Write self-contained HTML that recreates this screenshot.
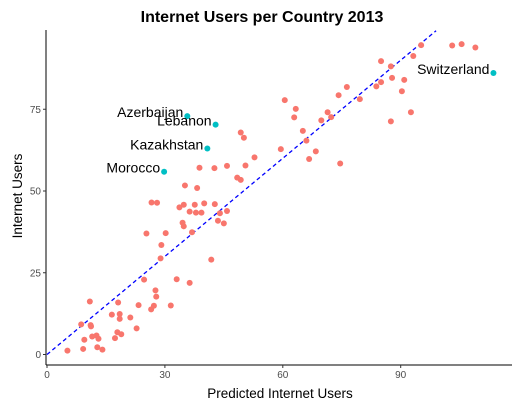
<!DOCTYPE html>
<html><head><meta charset="utf-8"><style>
body{margin:0;background:#fff;font-family:"Liberation Sans",Arial,sans-serif;}
svg text{font-family:"Liberation Sans",Arial,sans-serif;}
</style></head><body>
<svg id="chart" width="522" height="407" viewBox="0 0 522 407">
<rect width="522" height="407" fill="#fff"/>
<text x="262" y="22" text-anchor="middle" font-size="16" font-weight="bold">Internet Users per Country 2013</text>
<g id="guide"></g>
<g id="pts"></g>
<g id="labels"></g>
<g id="axes"></g>
<text x="280" y="398" text-anchor="middle" font-size="13.5">Predicted Internet Users</text>
<text transform="translate(22,196) rotate(-90)" text-anchor="middle" font-size="13.5">Internet Users</text>
</svg>
<script>
const predicted=[5.2,9.2,8.7,11.1,11.2,10.9,9.5,11.5,12.6,13.1,12.8,14.1,16.5,17.3,17.9,18.9,18.1,18.5,18.5,21.2,22.8,23.3,24.7,26.5,27.2,27.6,27.8,31.5,33.0,36.3,28.9,29.1,25.3,30.2,26.6,28.0,33.7,34.8,36.3,37.6,37.9,39.3,40.0,42.7,44.0,45.8,43.5,45.0,34.5,34.8,36.9,41.8,35.1,38.2,38.8,42.6,45.8,50.5,48.4,49.3,59.5,60.5,63.3,62.9,65.1,66.0,66.7,68.4,69.8,71.4,72.3,74.6,74.2,76.3,79.6,83.8,85.0,85.0,87.5,87.8,87.5,90.9,90.3,92.6,93.2,95.2,103.1,105.5,109.0,49.3,50.1,52.8];
const actual=[1.2,1.7,9.2,9.0,8.6,16.2,4.5,5.5,5.8,4.8,2.2,1.5,12.2,5.0,6.8,6.2,15.9,12.4,10.9,11.3,8.0,15.1,22.9,13.8,14.9,19.6,17.7,15.0,23.0,21.9,29.4,33.5,37.0,37.1,46.5,46.4,45.0,45.8,43.7,45.8,43.4,43.4,46.2,46.0,43.2,43.9,40.9,40.1,40.3,39.2,37.4,29.0,51.7,50.9,57.1,57.0,57.7,57.8,54.1,53.4,62.8,77.8,75.1,72.5,68.4,65.4,59.8,62.1,71.6,74.1,72.6,58.4,79.3,81.8,78.1,82.0,83.3,89.7,88.1,84.6,71.3,84.0,80.5,74.1,91.3,94.6,94.5,94.9,93.9,67.9,66.3,60.3];
const hlNames=["Azerbaijan","Lebanon","Kazakhstan","Morocco","Switzerland"];
const hlPred=[35.7,42.9,40.8,29.8,113.6];
const hlActual=[72.9,70.3,63.0,55.9,86.1];
const xTicks=[0,30,60,90];
const yTicks=[0,25,50,75];
const NS="http://www.w3.org/2000/svg";
const X=v=>47+v*3.93, Y=v=>354.5-v*3.27;
function mk(t,a,p){const e=document.createElementNS(NS,t);for(const k in a)e.setAttribute(k,a[k]);p.appendChild(e);return e;}
const g=document.getElementById('guide');
const ln=mk('line',{x1:X(0),y1:Y(0),x2:X(99),y2:Y(99),stroke:'#0000ff','stroke-width':1.3,'stroke-dasharray':'4,3'},g);


const pg=document.getElementById('pts');
predicted.forEach((p,i)=>{const c=mk('circle',{cx:X(p),cy:Y(actual[i]),r:3,fill:'#F8766D'},pg);

});
const lg=document.getElementById('labels');
hlNames.forEach((n,i)=>{const c=mk('circle',{cx:X(hlPred[i]),cy:Y(hlActual[i]),r:3,fill:'#00BFC4'},pg);


const t=mk('text',{x:X(hlPred[i])-4,y:Y(hlActual[i])+1,'text-anchor':'end','font-size':14},lg);t.textContent=n;

});
const ax=document.getElementById('axes');
const xl=mk('line',{x1:46,y1:365,x2:512,y2:365,stroke:'#000','stroke-width':1},ax);


const yl=mk('line',{x1:46,y1:30,x2:46,y2:365,stroke:'#000','stroke-width':1},ax);


xTicks.forEach(v=>{mk('line',{x1:X(v),y1:365,x2:X(v),y2:368,stroke:'#333'},ax);
const t=mk('text',{x:X(v),y:378,'text-anchor':'middle','font-size':10,fill:'#4d4d4d'},ax);t.textContent=v;

});
yTicks.forEach(v=>{mk('line',{x1:43,y1:Y(v),x2:46,y2:Y(v),stroke:'#333'},ax);
const t=mk('text',{x:41,y:Y(v)+3.5,'text-anchor':'end','font-size':10,fill:'#4d4d4d'},ax);t.textContent=v;

});
</script>
</body></html>
